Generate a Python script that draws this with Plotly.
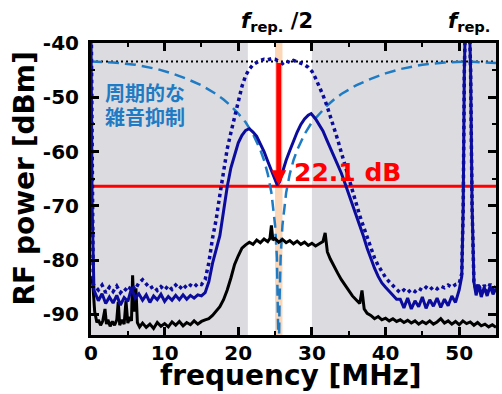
import plotly.graph_objects as go

# ---------------- data ----------------
freq_black = [0, 0.25, 0.5, 0.8, 1.0, 1.3, 1.6, 1.9, 2.1, 2.3, 2.6, 2.9, 3.2, 3.5, 3.7, 3.9,
              4.2, 4.5, 4.75, 5.0, 5.3, 5.5, 5.65, 5.85, 6.1, 6.3, 6.6, 7.0, 7.5, 8.0, 8.5,
              9.0, 9.5, 10.0, 10.5, 11.0, 11.5, 12.0, 12.5, 13.0, 13.5, 14.0, 14.5, 15.0,
              15.5, 16.0, 16.5, 17.0, 17.5, 18.0, 18.5, 19.0, 19.5, 20.0, 20.5, 21.0, 21.5,
              22.0, 22.5, 23.0, 23.5, 24.0, 24.3, 24.5, 24.7, 25.0, 25.5, 26.0, 26.5, 27.0,
              27.5, 28.0, 28.5, 29.0, 29.5, 30.0, 30.5, 31.0, 31.5, 31.8, 32.1, 32.5, 33.0,
              33.5, 34.0, 34.5, 35.0, 35.5, 36.0, 36.5, 36.8, 37.1, 37.5, 38.0, 38.5, 39.0,
              39.5, 40.0, 40.5, 41.0, 41.5, 42.0, 42.5, 43.0, 43.5, 44.0, 44.5, 45.0, 45.5,
              46.0, 46.5, 47.0, 47.5, 48.0, 48.5, 49.0, 49.5, 50.0, 50.5, 51.0, 51.5, 52.0,
              52.5, 53.0, 53.5, 54.0, 54.5, 55.0]
power_black = [-83.0, -84.5, -89.5, -91.5, -91.0, -92.0, -91.2, -89.0, -91.8, -91.0, -92.2,
               -91.3, -92.0, -91.0, -87.7, -92.0, -91.0, -91.8, -87.5, -91.6, -90.5, -91.2,
               -82.8, -89.5, -85.2, -91.5, -92.3, -91.6, -92.4, -91.8, -92.6, -91.5, -92.2,
               -91.7, -92.3, -91.4, -92.0, -91.3, -92.1, -91.5, -91.9, -91.2, -91.8, -91.3,
               -91.0, -90.8, -90.2, -89.3, -88.6, -87.3, -85.5, -83.3, -80.8, -79.2, -77.8,
               -77.2, -76.7, -77.1, -76.3, -76.8, -76.1, -76.6, -76.0, -73.6, -76.3, -76.0,
               -76.7, -76.2, -76.8, -76.4, -77.0, -76.5, -77.1, -76.7, -77.3, -76.9, -77.4,
               -77.0, -76.6, -75.0, -78.5, -79.8, -81.2, -82.4, -83.6, -84.6, -85.6, -86.6,
               -87.3, -88.0, -85.6, -89.0, -89.8, -90.2, -90.8, -90.4, -91.0, -90.7, -91.2,
               -90.8, -91.3, -91.0, -91.5, -91.1, -91.6, -91.2, -91.8, -91.3, -91.7, -91.2,
               -91.8, -91.4, -90.8, -91.6, -91.2, -91.8, -91.3, -91.9, -91.2, -91.7, -91.4,
               -92.0, -91.5, -92.1, -91.8, -92.3, -91.9, -92.4]

freq_solid = [0, 0.15, 0.4, 1.0, 1.5, 2.0, 2.5, 3.0, 3.5, 4.0, 4.5, 5.0, 5.5, 6.0, 6.5, 7.0,
              7.5, 8.0, 8.5, 9.0, 9.5, 10.0, 10.5, 11.0, 11.5, 12.0, 12.5, 13.0, 13.5, 14.0,
              14.5, 15.0, 15.5, 16.0, 16.5, 17.0, 17.5, 18.0, 18.5, 19.0, 19.5, 20.0, 20.5,
              21.0, 21.5, 22.0, 22.5, 23.0, 23.5, 24.0, 24.5, 25.0, 25.3, 25.6, 26.0, 26.5,
              27.0, 27.5, 28.0, 28.5, 29.0, 29.5, 29.9, 30.5, 31.0, 31.5, 32.0, 32.5, 33.0,
              33.5, 34.0, 34.5, 35.0, 35.5, 36.0, 36.5, 37.0, 37.5, 38.0, 38.5, 39.0, 39.5,
              40.0, 40.5, 41.0, 41.5, 42.0, 42.5, 43.0, 43.5, 44.0, 44.5, 45.0, 45.5, 46.0,
              46.5, 47.0, 47.5, 48.0, 48.5, 49.0, 49.5, 50.0, 50.35, 50.55, 50.7, 51.1, 51.55,
              51.75, 52.0, 52.3, 52.6, 53.0, 53.4, 53.8, 54.2, 54.6, 55.0]
power_solid = [-38.0, -70.0, -85.5, -87.5, -86.2, -88.0, -86.8, -87.9, -86.5, -88.3, -86.9,
               -87.6, -85.2, -87.0, -86.2, -87.4, -86.4, -87.8, -86.6, -87.3, -86.3, -87.6,
               -86.7, -87.4, -86.5, -87.3, -86.4, -87.2, -86.5, -87.0, -86.4, -86.6, -86.0,
               -84.0, -80.6, -78.0, -75.5, -71.0, -66.5, -63.0, -60.5, -58.4, -57.0, -56.1,
               -55.8, -56.4, -57.2, -58.6, -60.0, -61.8, -63.6, -65.4, -66.2, -65.6, -63.8,
               -61.6, -59.8, -58.0, -56.4, -55.0, -54.0, -53.3, -53.0, -54.0, -55.0, -56.2,
               -57.8, -59.4, -60.8, -62.3, -64.0, -65.9, -67.8, -69.8, -71.6, -73.5, -75.6,
               -77.8, -79.8, -81.5, -83.0, -84.2, -85.0, -85.8, -86.5, -87.2, -87.2, -88.8,
               -87.0, -89.0, -87.5, -88.6, -86.8, -88.9, -87.3, -88.5, -87.0, -88.7, -87.2,
               -88.4, -86.6, -87.8, -85.5, -83.0, -70.0, -45.0, -20.0, -45.0, -70.0, -84.0,
               -86.5, -84.5, -86.8, -85.0, -86.6, -84.8, -86.3, -85.2]

freq_dot = [0, 0.1, 0.3, 1.0, 1.5, 2.0, 2.5, 3.0, 3.5, 4.0, 4.5, 5.0, 5.5, 6.0, 6.5, 7.0,
            7.5, 8.0, 8.5, 9.0, 9.5, 10.0, 10.5, 11.0, 11.5, 12.0, 12.5, 13.0, 13.5, 14.0,
            14.5, 15.0, 15.5, 16.0, 16.5, 17.0, 17.5, 18.0, 18.5, 19.0, 19.5, 20.0, 20.5,
            21.0, 21.5, 22.0, 22.5, 23.0, 23.5, 24.0, 24.5, 25.0, 25.5, 26.0, 26.5, 27.0,
            27.5, 28.0, 28.5, 29.0, 29.5, 30.0, 30.5, 31.0, 31.5, 32.0, 32.5, 33.0, 33.5,
            34.0, 34.5, 35.0, 35.5, 36.0, 36.5, 37.0, 37.5, 38.0, 38.5, 39.0, 39.5, 40.0,
            40.5, 41.0, 41.5, 42.0, 42.5, 43.0, 43.5, 44.0, 44.5, 45.0, 45.5, 46.0, 46.5,
            47.0, 47.5, 48.0, 48.5, 49.0, 49.5, 50.0, 50.35, 50.55, 50.7, 51.1, 51.55, 51.75,
            52.0, 52.3, 52.6, 53.0, 53.4, 53.8, 54.2, 54.6, 55.0]
power_dot = [-30.0, -60.0, -84.5, -85.5, -84.6, -86.0, -85.0, -85.8, -84.8, -86.0, -85.2,
             -85.8, -84.6, -85.4, -84.2, -83.6, -84.4, -85.2, -84.8, -85.6, -84.9, -85.5,
             -84.7, -85.4, -84.6, -85.3, -84.5, -85.2, -84.6, -85.0, -84.3, -84.5, -83.6,
             -80.5, -76.0, -72.5, -68.0, -63.5, -59.5, -56.5, -53.5, -50.3, -48.0, -46.0,
             -44.8, -44.0, -43.5, -43.2, -43.0, -43.1, -42.9, -43.0, -43.4, -43.8, -43.3,
             -43.6, -43.2, -43.5, -43.8, -44.0, -44.5, -45.2, -46.5, -48.0, -49.6, -51.4,
             -53.4, -55.5, -57.8, -60.2, -62.6, -65.0, -67.4, -69.6, -71.8, -73.8, -75.8,
             -77.8, -79.6, -81.0, -82.2, -83.2, -84.0, -84.8, -85.4, -86.0, -85.5, -86.0,
             -85.4, -85.8, -85.2, -85.6, -85.0, -85.5, -84.9, -85.3, -84.8, -85.1, -84.6,
             -85.0, -84.5, -84.3, -82.5, -70.0, -45.0, -20.0, -45.0, -70.0, -84.0, -85.5,
             -84.3, -86.0, -84.6, -85.8, -84.4, -85.6, -84.8]

freq_filter = [0, 3, 6, 9, 11, 13, 15, 17, 18, 19, 20, 21, 22, 23, 23.5, 24, 24.5, 24.75,
               25, 25.25, 25.4, 25.5, 25.6, 25.75, 26, 26.25, 26.5, 27, 27.5, 28, 29, 30,
               31, 32, 33, 34, 36, 38, 40, 42, 45, 48, 51, 53, 55]
power_filter = [-43.4, -43.6, -44.0, -44.8, -45.6, -46.6, -47.8, -49.4, -50.4, -51.6, -53.0,
                -54.6, -56.8, -59.7, -61.6, -64.1, -67.6, -70.1, -73.6, -79.6, -87.6, -100.0,
                -87.6, -79.6, -73.6, -70.1, -67.6, -64.1, -61.6, -59.7, -56.8, -54.6, -53.0,
                -51.6, -50.4, -49.4, -47.8, -46.6, -45.6, -44.8, -44.0, -43.6, -43.4, -43.5,
                -43.7]

ref_span = [0, 55]
ref_level = -43.4          # unsuppressed noise peak level (dotted black line)
suppressed_level = -66.4   # suppressed level (red line)
notch_freq = 25.5          # f_rep./2
arrow_tip = -66.2
white_band = [21.3, 30.0]
peach_band = [25.0, 26.0]

x_ticks = [0, 10, 20, 30, 40, 50]
x_ticktext = ["0", "10", "20", "30", "40", "50"]
x_minor = [5, 15, 25, 35, 45, 55]
y_ticks = [-90, -80, -70, -60, -50, -40]
y_ticktext = ["-90", "-80", "-70", "-60", "-50", "-40"]
y_minor = [-85, -75, -65, -55, -45]

NAVY = "#0b0b9e"
BLUE = "#1f7bc4"
FONT = "DejaVu Sans"

fig = go.Figure()

fig.add_trace(go.Scatter(x=ref_span, y=[ref_level, ref_level], mode="lines",
                         line=dict(color="black", width=2, dash="2px,3px"), hoverinfo="skip"))
fig.add_trace(go.Scatter(x=freq_filter, y=power_filter, mode="lines",
                         line=dict(color=BLUE, width=2.5, dash="11px,6px"), hoverinfo="skip"))
fig.add_trace(go.Scatter(x=freq_black, y=power_black, mode="lines",
                         line=dict(color="black", width=3), hoverinfo="skip"))
fig.add_trace(go.Scatter(x=freq_dot, y=power_dot, mode="lines",
                         line=dict(color=NAVY, width=3.5, dash="dot"), hoverinfo="skip"))
fig.add_trace(go.Scatter(x=freq_solid, y=power_solid, mode="lines",
                         line=dict(color=NAVY, width=3), hoverinfo="skip"))

shapes = [
    dict(type="rect", xref="x", yref="paper", x0=white_band[0], x1=white_band[1], y0=0, y1=1,
         fillcolor="white", line=dict(width=0), layer="below"),
    dict(type="rect", xref="x", yref="paper", x0=peach_band[0], x1=peach_band[1], y0=0, y1=1,
         fillcolor="#fbd6b7", line=dict(width=0), layer="below"),
    dict(type="line", xref="x", yref="y", x0=ref_span[0], x1=ref_span[1],
         y0=suppressed_level, y1=suppressed_level, line=dict(color="#ff0000", width=3),
         layer="below"),
]

annotations = [
    dict(x=notch_freq, y=arrow_tip, ax=notch_freq, ay=ref_level, xref="x", yref="y",
         axref="x", ayref="y", text="", showarrow=True, arrowhead=2, arrowsize=0.6,
         arrowwidth=5, arrowcolor="#ff0000", standoff=0),
    dict(x=34.9, y=-63.9, xref="x", yref="y", text="<b>22.1 dB</b>", showarrow=False,
         xanchor="center", yanchor="middle",
         font=dict(family=FONT, size=25, color="#ff0000")),
    dict(x=7.28, y=-49.1, xref="x", yref="y", text="<b>周期的な</b>", showarrow=False,
         xanchor="center", yanchor="middle",
         font=dict(family="Noto Sans CJK JP", size=20, color=BLUE)),
    dict(x=7.28, y=-53.5, xref="x", yref="y", text="<b>雑音抑制</b>", showarrow=False,
         xanchor="center", yanchor="middle",
         font=dict(family="Noto Sans CJK JP", size=20, color=BLUE)),
    dict(x=25.3, y=1.072, xref="x", yref="paper", text="<b><i>f</i><sub>rep.</sub> /2</b>",
         showarrow=False, xanchor="center", yanchor="middle",
         font=dict(family=FONT, size=21, color="black")),
    dict(x=51.4, y=1.072, xref="x", yref="paper", text="<b><i>f</i><sub>rep.</sub></b>",
         showarrow=False, xanchor="center", yanchor="middle",
         font=dict(family=FONT, size=21, color="black")),
    dict(x=0.4926, y=-0.14, xref="paper", yref="paper", text="<b>frequency [MHz]</b>",
         showarrow=False, xanchor="center", yanchor="middle",
         font=dict(family=FONT, size=28, color="black")),
    dict(x=-0.1618, y=0.5377, xref="paper", yref="paper", text="<b>RF power [dBm]</b>",
         showarrow=False, textangle=-90, xanchor="center", yanchor="middle",
         font=dict(family=FONT, size=28, color="black")),
]

axis_common = dict(showgrid=False, zeroline=False, showline=True, linewidth=3, linecolor="black",
                   mirror="ticks", ticks="inside", ticklen=8, tickwidth=2.5, tickcolor="black",
                   tickfont=dict(family=FONT, size=20, color="black", weight="bold"))

fig.update_layout(
    width=502, height=394,
    margin=dict(l=91, r=3, t=43, b=59),
    paper_bgcolor="white", plot_bgcolor="#dcdce0",
    showlegend=False,
    shapes=shapes, annotations=annotations,
    xaxis=dict(range=[0, 55], tickmode="array", tickvals=x_ticks, ticktext=x_ticktext,
               ticklabelstandoff=-2,
               minor=dict(tickmode="array", tickvals=x_minor, ticks="inside", ticklen=4,
                          tickwidth=2, tickcolor="black", showgrid=False),
               **axis_common),
    yaxis=dict(range=[-93.8, -40], tickmode="array", tickvals=y_ticks, ticktext=y_ticktext,
               ticklabelstandoff=5,
               minor=dict(tickmode="array", tickvals=y_minor, ticks="inside", ticklen=4,
                          tickwidth=2, tickcolor="black", showgrid=False),
               **axis_common),
)

fig.write_html("out.html", config={"displayModeBar": False},
               post_script="document.body.style.margin='0';document.body.style.overflow='hidden';")
